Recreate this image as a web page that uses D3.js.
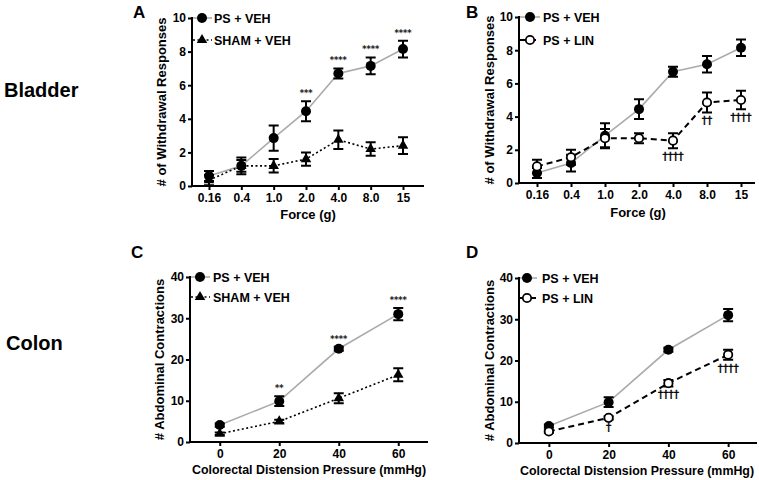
<!DOCTYPE html>
<html><head><meta charset="utf-8">
<script src="https://cdn.jsdelivr.net/npm/d3@7"></script>
<style>
body{margin:0;background:#fff;}
svg{font-family:"Liberation Sans",Arial,sans-serif;font-weight:bold;}
</style></head><body>
<svg id="c" width="759" height="480"></svg>
<script>
// ---- data ----
const forceLabels = ["0.16","0.4","1.0","2.0","4.0","8.0","15"];
const bladderPsVeh = [0.6, 1.2, 2.85, 4.45, 6.7, 7.15, 8.15];
const bladderPsVehErr = [0.3, 0.5, 0.75, 0.6, 0.3, 0.5, 0.5];
const bladderShamVeh = [0.35, 1.2, 1.2, 1.6, 2.75, 2.2, 2.4];
const bladderShamVehErr = [0.3, 0.35, 0.4, 0.4, 0.55, 0.4, 0.5];
const bladderPsLin = [1.0, 1.55, 2.7, 2.7, 2.55, 4.85, 5.0];
const bladderPsLinErr = [0.4, 0.45, 0.55, 0.3, 0.45, 0.6, 0.55];
const bladderStarsA = ["","","","***","****","****","****"];
const bladderDaggersB = ["","","","","††††","††","††††"];

const pressures = [0, 20, 40, 60];
const colonPsVeh = [4.1, 9.9, 22.6, 31.0];
const colonPsVehErr = [0.4, 1.2, 0.5, 1.5];
const colonShamVeh = [2.0, 5.0, 10.6, 16.3];
const colonShamVehErr = [0.3, 0.4, 1.2, 1.6];
const colonPsLin = [2.8, 6.1, 14.5, 21.4];
const colonPsLinErr = [0.3, 0.4, 0.8, 1.2];
const colonStarsC = ["","**","****","****"];
const colonDaggersD = ["","†","††††","††††"];

const bladderTicks = [0,2,4,6,8,10];
const colonTicks = [0,10,20,30,40];

const svg = d3.select("#c");
const GRAY = "#ababab";
const FONT = "Liberation Sans, Arial, sans-serif";

svg.append("text").attr("x",4).attr("y",97).attr("font-size",20).text("Bladder");
svg.append("text").attr("x",6).attr("y",350).attr("font-size",20).text("Colon");

function panel(o){
  const g = svg.append("g");
  const x = o.x, y = o.y;
  g.append("text").attr("x",o.letterX).attr("y",o.letterY).attr("font-size",17).text(o.letter);
  const ya = g.append("g").attr("transform",`translate(${o.axisX},0)`)
    .call(d3.axisLeft(y).tickValues(o.yTicks).tickSize(4).tickSizeOuter(0).tickPadding(2));
  ya.select(".domain").remove();
  ya.selectAll("line").attr("stroke","#000").attr("stroke-width",2);
  ya.selectAll("text").attr("font-size",12).attr("font-weight","bold").attr("font-family",FONT).attr("fill","#000");
  const xa = g.append("g").attr("transform",`translate(0,${y(0)})`)
    .call(d3.axisBottom(x).tickValues(o.xTicks).tickSize(4).tickSizeOuter(0).tickPadding(3));
  xa.select(".domain").remove();
  xa.selectAll("line").attr("stroke","#000").attr("stroke-width",2);
  xa.selectAll("text").attr("font-size",12).attr("font-weight","bold").attr("font-family",FONT).attr("fill","#000");
  const y0 = y(0), yTop = y(o.yTicks[o.yTicks.length-1]);
  g.append("path").attr("d",`M${o.axisX},${yTop-1}V${y0}H${o.axisEnd}`)
    .attr("fill","none").attr("stroke","#000").attr("stroke-width",2);
  g.append("text").attr("transform",`translate(${o.yTitleX},${(y0+yTop)/2}) rotate(-90)`)
    .attr("text-anchor","middle").attr("font-size",13).text(o.yTitle);
  g.append("text").attr("x",o.xTitleX).attr("y",o.xTitleY)
    .attr("text-anchor","middle").attr("font-size",o.xTitleSize||13).text(o.xTitle);

  o.series.forEach(s=>{
    const pts = o.cats.map((c,i)=>({c, v:s.values[i], e:s.err[i]}));
    const line = d3.line().x(d=>x(d.c)).y(d=>y(d.v));
    g.append("path").datum(pts).attr("d",line).attr("fill","none")
      .attr("stroke",s.lineColor).attr("stroke-width",s.lineWidth)
      .attr("stroke-dasharray",s.dash||null);
    const eb = g.append("g");
    pts.forEach(d=>{
      const cx = x(d.c), top=y(d.v+d.e), bot=y(d.v-d.e);
      eb.append("path").attr("d",`M${cx},${top}V${bot}M${cx-5},${top}H${cx+5}M${cx-5},${bot}H${cx+5}`)
        .attr("stroke","#000").attr("stroke-width",2).attr("fill","none");
    });
    pts.forEach(d=>drawMarker(g, s.marker, x(d.c), y(d.v)));
    if(s.above){
      pts.forEach((d,i)=>{ if(s.above[i]) g.append("text").attr("x",x(d.c)).attr("y",y(d.v+d.e)-5)
        .attr("text-anchor","middle").attr("font-size",8.5).attr("font-weight","normal")
        .attr("font-family","DejaVu Sans, sans-serif").attr("fill","#000")
        .attr("stroke","#000").attr("stroke-width",0.2).text(s.above[i]); });
    }
    if(s.below){
      pts.forEach((d,i)=>{ if(s.below[i]) g.append("text").attr("x",x(d.c)).attr("y",y(d.v-d.e)+12)
        .attr("text-anchor","middle").attr("font-size",10.5).attr("font-weight","normal")
        .attr("font-family","DejaVu Sans, sans-serif").attr("fill","#000")
        .attr("stroke","#000").attr("stroke-width",0.4).text(s.below[i]); });
    }
  });

  o.series.forEach((s,i)=>{
    const ly = o.legendY[i];
    g.append("line").attr("x1",o.axisX+1).attr("x2",o.legMarkX+10).attr("y1",ly).attr("y2",ly)
      .attr("stroke",s.lineColor).attr("stroke-width",s.lineWidth).attr("stroke-dasharray",s.dash||null);
    drawMarker(g, s.marker, o.legMarkX, ly);
    g.append("text").attr("x",o.legTextX).attr("y",ly+4.5).attr("font-size",12.5).text(s.name);
  });
}

function drawMarker(g, type, cx, cy){
  if(type==="circle") g.append("circle").attr("cx",cx).attr("cy",cy).attr("r",5).attr("fill","#000");
  else if(type==="open") g.append("circle").attr("cx",cx).attr("cy",cy).attr("r",4.2).attr("fill","#fff").attr("stroke","#000").attr("stroke-width",1.8);
  else if(type==="tri") g.append("path").attr("d",d3.symbol(d3.symbolTriangle,48)()).attr("transform",`translate(${cx},${cy})`).attr("fill","#000");
}

const psVehStyle = {name:"PS + VEH", lineColor:GRAY, lineWidth:1.6, marker:"circle"};
const shamStyle = {name:"SHAM + VEH", lineColor:"#000", lineWidth:1.6, dash:"2,2.5", marker:"tri"};
const linStyle = {name:"PS + LIN", lineColor:"#000", lineWidth:2, dash:"6,4", marker:"open"};

panel({
  letter:"A", letterX:133, letterY:18,
  x:d3.scalePoint().domain(forceLabels).range([209,403]),
  y:d3.scaleLinear().domain([0,10]).range([186,18]),
  cats:forceLabels, xTicks:forceLabels, yTicks:bladderTicks,
  axisX:192, axisEnd:424,
  yTitle:"# of Withdrawal Responses", yTitleX:166,
  xTitle:"Force (g)", xTitleX:308, xTitleY:219,
  legendY:[18,40], legMarkX:202, legTextX:214,
  series:[
    Object.assign({}, psVehStyle, {values:bladderPsVeh, err:bladderPsVehErr, above:bladderStarsA}),
    Object.assign({}, shamStyle, {values:bladderShamVeh, err:bladderShamVehErr})
  ]
});

panel({
  letter:"B", letterX:466, letterY:18,
  x:d3.scalePoint().domain(forceLabels).range([537,741]),
  y:d3.scaleLinear().domain([0,10]).range([183,17]),
  cats:forceLabels, xTicks:forceLabels, yTicks:bladderTicks,
  axisX:519, axisEnd:755,
  yTitle:"# of Withdrawal Responses", yTitleX:494,
  xTitle:"Force (g)", xTitleX:638, xTitleY:217,
  legendY:[17,40], legMarkX:530, legTextX:543,
  series:[
    Object.assign({}, psVehStyle, {values:bladderPsVeh, err:bladderPsVehErr}),
    Object.assign({}, linStyle, {values:bladderPsLin, err:bladderPsLinErr, below:bladderDaggersB})
  ]
});

panel({
  letter:"C", letterX:131, letterY:258,
  x:d3.scaleLinear().domain([-10,70]).range([190,428]),
  y:d3.scaleLinear().domain([0,40]).range([442,277]),
  cats:pressures, xTicks:pressures, yTicks:colonTicks,
  axisX:190, axisEnd:428,
  yTitle:"# Abdominal Contractions", yTitleX:164,
  xTitle:"Colorectal Distension Pressure (mmHg)", xTitleX:309, xTitleY:474, xTitleSize:12.4,
  legendY:[277,297], legMarkX:200, legTextX:213,
  series:[
    Object.assign({}, psVehStyle, {values:colonPsVeh, err:colonPsVehErr, above:colonStarsC}),
    Object.assign({}, shamStyle, {values:colonShamVeh, err:colonShamVehErr})
  ]
});

panel({
  letter:"D", letterX:466, letterY:258,
  x:d3.scaleLinear().domain([-10,70]).range([519,758]),
  y:d3.scaleLinear().domain([0,40]).range([443,278]),
  cats:pressures, xTicks:pressures, yTicks:colonTicks,
  axisX:519, axisEnd:757,
  yTitle:"# Abdominal Contractions", yTitleX:494,
  xTitle:"Colorectal Distension Pressure (mmHg)", xTitleX:637, xTitleY:475, xTitleSize:12.4,
  legendY:[278,298], legMarkX:527, legTextX:542,
  series:[
    Object.assign({}, psVehStyle, {values:colonPsVeh, err:colonPsVehErr}),
    Object.assign({}, linStyle, {values:colonPsLin, err:colonPsLinErr, below:colonDaggersD})
  ]
});
</script></body></html>
